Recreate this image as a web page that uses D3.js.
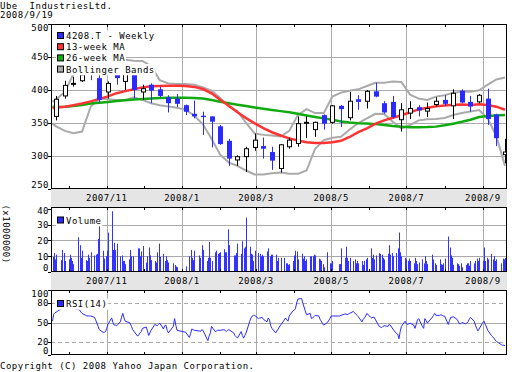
<!DOCTYPE html>
<html>
<head>
<meta charset="utf-8">
<script src="https://cdn.jsdelivr.net/npm/d3@7"></script>
<style>
  body { margin: 0; background: #fff; }
  svg { display: block; }
  text { font-family: "DejaVu Sans Mono", monospace; font-size: 9px; letter-spacing: 0.5px; fill: #000; }
</style>
</head>
<body>
<script>
// weekly candles, one per Friday from 2007-09-21 to 2008-09-19
const weekOpen = [360, 391, 409, 414, 432, 418, 397, 424, 413, 425, 397, 408, 401, 389, 387, 377, 364, 361, 360, 345,
  323, 294, 299, 313, 315, 306, 281, 314, 319, 350, 340, 362, 351, 376, 358, 386, 383, 398, 380, 382,
  355, 365, 374, 368, 378, 385, 376, 399, 382, 382, 387, 363, 302]
const weekHigh = [391, 414, 420, 426, 440, 423, 413, 426, 428, 428, 408, 410, 405, 392, 394, 378, 384, 367, 360, 347,
  326, 301, 314, 334, 328, 314, 318, 328, 360, 360, 352, 363, 377, 377, 397, 392, 400, 411, 383, 391,
  380, 383, 377, 381, 389, 392, 401, 401, 391, 394, 402, 364, 326]
const weekLow = [354, 387, 405, 412, 415, 381, 387, 408, 400, 387, 385, 380, 389, 366, 374, 362, 357, 332, 313, 317,
  285, 285, 276, 308, 296, 279, 275, 311, 314, 327, 329, 340, 349, 344, 354, 370, 372, 389, 364, 357,
  337, 356, 360, 359, 375, 376, 356, 380, 367, 380, 347, 315, 289]
const weekClose = [386, 407, 410, 423, 426, 385, 410, 418, 425, 400, 402, 399, 391, 380, 379, 367, 360, 359, 352, 318,
  296, 299, 311, 324, 311, 293, 317, 324, 349, 351, 351, 349, 376, 371, 383, 382, 398, 390, 366, 359,
  370, 372, 369, 372, 383, 379, 395, 381, 375, 392, 356, 327, 306]

// lines: first point on the first trading day, then one per week
const ma13 = [372.5, 373.5, 374.6, 377, 379.7, 382.8, 386.5, 390.3, 395.2, 398.3, 401, 404, 405.6, 406.2, 406.6, 406.6, 406.2, 404.7,
  401.5, 395, 385.2, 376, 366.4, 357.4, 349.4, 342.3, 336, 331, 326.7, 323.6, 321, 319.6, 319.7, 320.7, 323, 328.8,
  336.3, 342, 349, 354, 358, 361.8, 366.2, 370.6, 373.2, 375.2, 376.4, 377.6, 378, 377.4, 378.3, 377.4, 374.7, 370]
const ma26 = [374.5, 374.2, 374.5, 375.9, 377.2, 379.5, 380.8, 381.8, 383.3, 384.5, 385.6, 386.5, 387.2, 387.8, 388.3, 388.4, 388.4, 387.8,
  387, 384.8, 382.3, 380, 377.7, 375.6, 373.5, 371.5, 369.7, 368, 366.2, 364, 361.5, 359.2, 357, 354.8, 352.4, 350.8,
  349.8, 349.3, 348.3, 346.8, 345.4, 344.5, 343.7, 343.4, 343.8, 344.5, 346.5, 349, 351.8, 355, 359, 360.6, 361.5, 362]
const bandUpper = [382, 386, 397, 424, 438, 445, 448, 449, 448, 446, 444.5, 444, 436, 415, 410, 409, 409, 408,
  404, 399, 388, 375, 368, 350, 334, 332, 331, 329.5, 338, 362, 371, 365, 365, 390, 396, 399,
  401, 406, 411, 411, 413, 412, 393, 387, 385, 390, 392, 396, 397.5, 397.5, 399.5, 408, 416, 419]
const bandLower = [349, 345, 338, 334.5, 337, 375, 387, 386, 385, 385, 389, 385, 380, 377, 375, 373, 370, 361,
  348, 326, 302, 290, 285, 278, 272, 272, 274, 275, 273, 273, 278, 311, 324, 327.5, 329, 340,
  350, 357, 364, 363.5, 352, 342, 347, 354, 355.5, 356, 357.5, 362, 365, 367.5, 369.5, 357, 330, 285]

// daily series (x1000000 shares), one value per trading day
const volume = [
  9.5, 12, 8, 11, 7.5, 14, 12, 7, // 2007/9
  8, 11, 9, 7, 5, 22, 17, 9, 13.5, 7.5, 7, 11, 9, 12.5, 10.5, 11, 11.5, 21, 29, 13.5, 8.5, 10, // 10
  13.5, 25, 38.5, 14, 18.5, 14, 18, 10, 10.5, 7, 7, 5, 8, 14, 10, 10, 15, 15, 10, 13, 16.5, // 11
  6, 10, 15.5, 10.5, 7.5, 7, 6, 12.5, 18, 9.5, 11.5, 7, 10, 7.5, 6, 5.5, 4.5, 3.5, 3, // 12
  3.5, 10, 14, 9, 7.5, 13.5, 10.5, 9, 17, 14, 7, 9, 19, 9, 7, 12.5, 13.5, 11.5, 12, // 2008/1
  12.5, 14.5, 12.5, 12.5, 27, 17, 10.5, 10.5, 12, 18, 11.5, 19.5, 15, 16, 34.5, 16, 11.5, 11, 7, 13.5, // 2
  12, 11.5, 10, 11, 10, 13, 15, 10, 11, 11, 11, 7, 9, 9, 9, 5.5, 5.5, 4.5, 5, 7, // 3
  10.5, 13.5, 13, 8, 11.5, 8.5, 10, 7, 8, 10, 10, 10, 11, 10.5, 8.5, 8, 7, 5, 3, 12.5, 5.5, // 4
  5.5, 7, 5, 5, 15, 9, 16, 9, 7, 9, 7, 8, 5.5, 7, 5.5, 7, 4.5, 7, 8, 9, // 5
  15, 9, 11, 8, 10.5, 12, 11.5, 11, 9, 8, 11.5, 17, 11, 12, 10, 12, 15, 25, 12.5, 10, 9, // 6
  8, 7, 8.5, 7, 5.5, 9, 7, 5, 6, 8, 5.5, 10, 7, 5, 11, 8, 5.5, 4.5, 8, 5, 4.5, 5.5, // 7
  8.5, 22.5, 15.5, 10.5, 9, 4.5, 5.5, 5, 4, 5.5, 3, 4.5, 5.5, 5.5, 4, 7, 5.5, 7, 8.5, 7, 9, // 8
  7, 15.5, 7, 9, 8, 11.5, 8, 10, 7, 8, 5.5, 8.5, 8, 9 // 9
]
const rsi = [
  52, 63, 65, 66, 71, 73, 75, 76, // 2007/9
  78, 80, 77, 74, 72, 70, 69, 66, 64, 61, 60, 60, 60, 60, 58, 54, 49, 44, 39, 35, 35, 36, // 10
  41, 47, 57, 50, 46, 46, 45, 51, 58, 64, 57, 52, 50, 49, 44, 39, 29, 31, 34, 36, 41, // 11
  43, 37, 30, 34, 38, 47, 46, 45, 47, 49, 40, 45, 46, 38, 34, 44, 56, 46, 38, // 12
  35, 27, 33, 40, 39, 38, 37, 36, 39, 38, 26, 22, 29, 34, 44, 36, 37, 38, 38, // 2008/1
  38, 39, 38, 36, 38, 39, 34, 30, 28, 26, 36, 30, 26, 30, 34, 52, 57, 60, 61, 61, // 2
  56, 57, 57, 58, 55, 51, 57, 54, 45, 41, 34, 37, 40, 46, 54, 57, 54, 52, 60, 68, // 3
  69, 71, 80, 86, 87, 80, 74, 68, 62, 64, 56, 57, 59, 61, 60, 55, 52, 48, 46, 50, 56, // 4
  60, 60, 60, 60, 61, 63, 63, 62, 63, 64, 67, 65, 63, 61, 59, 51, 55, 57, 60, 64, // 5
  58, 57, 58, 58, 54, 44, 43, 42, 44, 45, 44, 47, 46, 43, 40, 33, 32, 25, 36, 44, 52, // 6
  48, 47, 48, 49, 46, 41, 47, 54, 56, 44, 41, 56, 53, 49, 58, 61, 64, 61, 61, 62, 61, 60, // 7
  60, 47, 53, 58, 58, 59, 55, 52, 48, 48, 50, 48, 49, 51, 55, 58, 52, 46, 41, 37, 40, // 8
  50, 52, 47, 43, 38, 30, 28, 26, 23, 21, 16, 15, 15, 14 // 9
]
const holidays = ["2007-09-24", "2007-10-08", "2007-11-23", "2007-12-24", "2007-12-31", "2008-01-01", "2008-01-02",
  "2008-01-03", "2008-01-14", "2008-02-11", "2008-03-20", "2008-04-29", "2008-05-05", "2008-05-06", "2008-07-21", "2008-09-15"]

const priceTicks = [250, 300, 350, 400, 450, 500]
const priceGrid = [300, 350, 400, 450]
const volTicks = [0, 10, 20, 30, 40]
const volGrid = [10, 20, 30]
const rsiTicks = [0, 20, 50, 80, 100]

const blue = "#2a2aff"
const red = "#ff3333"
const green = "#11aa11"
const gray = "#aaaaaa"

const w = 512
const h = 372
const left = 51
const right = 507
const price = { top: 24, bottom: 189 }
const vol = { top: 207, bottom: 272 }
const osc = { top: 290, bottom: 355 }

const parse = d3.timeParse("%Y-%m-%d")
const fmtDay = d3.timeFormat("%Y-%m-%d")
const off = new Set(holidays)
const days = d3.timeDay.range(parse("2007-09-18"), parse("2008-09-20"))
  .filter((d) => d.getDay() > 0 && d.getDay() < 6 && !off.has(fmtDay(d)))
const weeks = d3.timeFriday.range(parse("2007-09-21"), parse("2008-09-20"))
const lineDates = [days[0]].concat(weeks)
const months = d3.timeMonth.range(parse("2007-09-20"), parse("2008-09-20"))

const svg = d3.select("body").append("svg").attr("width", w).attr("height", h)

const x = d3.scaleTime().domain([days[0], days[days.length - 1]]).range([52.5, 505])
const yP = d3.scaleLinear().domain([250, 500]).range([price.bottom, price.top])
const yV = d3.scaleLinear().domain([0, 41.2]).range([vol.bottom, vol.top])
const yR = d3.scaleLinear().domain([0, 100]).range([osc.bottom, osc.top])

const defs = svg.append("defs")
;[["clipP", price], ["clipV", vol], ["clipR", osc]].forEach(([id, p]) => {
  defs.append("clipPath").attr("id", id).append("rect")
    .attr("x", left).attr("y", p.top).attr("width", right - left).attr("height", p.bottom - p.top)
})

// grey date bands between the panels
const bands = [[price.bottom, vol.top], [vol.bottom, osc.top]]
bands.forEach(([a, b]) => {
  svg.append("rect").attr("x", left).attr("y", a).attr("width", right - left).attr("height", b - a).attr("fill", "#e5e5e5")
  svg.selectAll(null).data(months.filter((m) => m.getMonth() % 2 === 0)).enter().append("text")
    .attr("x", (d) => x(d))
    .attr("y", (a + b) / 2 + 3.4)
    .attr("text-anchor", "middle")
    .text(d3.timeFormat("%Y/%-m"))
})

function panelFrame(p, grid, yScale, dashed) {
  const g = svg.append("g")
  g.selectAll("line.h").data(grid).enter().append("line")
    .attr("x1", left).attr("x2", right)
    .attr("y1", (d) => Math.round(yScale(d)) + 0.5).attr("y2", (d) => Math.round(yScale(d)) + 0.5)
    .attr("stroke", gray)
    .attr("stroke-dasharray", (d) => (dashed && dashed.includes(d) ? "4,3" : null))
  g.selectAll("line.v").data(months.filter((m) => m.getMonth() % 2 === 0)).enter().append("line")
    .attr("x1", (d) => Math.round(x(d)) + 0.5).attr("x2", (d) => Math.round(x(d)) + 0.5)
    .attr("y1", p.top).attr("y2", p.bottom)
    .attr("stroke", gray)
  return g
}

panelFrame(price, priceGrid, yP)
panelFrame(vol, volGrid, yV)
panelFrame(osc, [20, 50, 80], yR, [20, 80])

// candles
const candles = weeks.map((d, i) => ({ date: d, o: weekOpen[i], h: weekHigh[i], l: weekLow[i], c: weekClose[i] }))
const gc = svg.append("g").attr("clip-path", "url(#clipP)")

const lineOf = (vals) => d3.line().x((d, i) => x(lineDates[i])).y((d) => yP(d))(vals)
gc.append("path").attr("d", lineOf(bandUpper)).attr("fill", "none").attr("stroke", gray).attr("stroke-width", 2)
gc.append("path").attr("d", lineOf(bandLower)).attr("fill", "none").attr("stroke", gray).attr("stroke-width", 2)
gc.append("path").attr("d", lineOf(ma26)).attr("fill", "none").attr("stroke", green).attr("stroke-width", 2.5)
gc.append("path").attr("d", lineOf(ma13)).attr("fill", "none").attr("stroke", red).attr("stroke-width", 2.5)

gc.selectAll("line.wick").data(candles).enter().append("line")
  .attr("x1", (d) => Math.round(x(d.date)) + 0.5).attr("x2", (d) => Math.round(x(d.date)) + 0.5)
  .attr("y1", (d) => yP(d.h)).attr("y2", (d) => yP(d.l))
  .attr("stroke", (d) => (d.c >= d.o ? "#000" : blue))
gc.selectAll("rect.body").data(candles).enter().append("rect")
  .attr("x", (d) => Math.round(x(d.date)) - (d.c >= d.o ? 1.5 : 2))
  .attr("width", (d) => (d.c >= d.o ? 4 : 5))
  .attr("y", (d) => yP(Math.max(d.o, d.c)))
  .attr("height", (d) => Math.max(1, Math.abs(yP(d.o) - yP(d.c))))
  .attr("fill", (d) => (d.c >= d.o ? "#fff" : blue))
  .attr("stroke", (d) => (d.c >= d.o ? "#000" : "none"))

// volume bars
const gv = svg.append("g").attr("clip-path", "url(#clipV)")
gv.selectAll("rect").data(volume).enter().append("rect")
  .attr("x", (d, i) => Math.round(x(days[i])))
  .attr("width", 1)
  .attr("y", (d) => yV(d))
  .attr("height", (d) => yV(0) - yV(d))
  .attr("fill", "#3333ff")

// RSI line
const gr = svg.append("g").attr("clip-path", "url(#clipR)")
gr.append("path")
  .attr("d", d3.line().x((d, i) => x(days[i])).y((d) => yR(d))(rsi))
  .attr("fill", "none").attr("stroke", blue).attr("stroke-width", 1)

// legends with white backing
function legend(items, base) {
  items.forEach(([label, color], i) => {
    const b = base + i * 11.2
    svg.append("rect").attr("x", 56).attr("y", b - 8.5).attr("width", 11 + label.length * 5.9).attr("height", 11.2).attr("fill", "#fff")
    svg.append("rect").attr("x", 57.5).attr("y", b - 6.5).attr("width", 6).attr("height", 6)
      .attr("fill", color).attr("stroke", "#000")
    svg.append("text").attr("x", 66).attr("y", b).text(label)
  })
}
legend([["4208.T - Weekly", blue], ["13-week MA", red], ["26-week MA", green], ["Bollinger Bands", gray]], 39)
legend([["Volume", blue]], 223.5)
legend([["RSI(14)", blue]], 307)

// borders, month ticks and y labels
;[price, vol, osc].forEach((p) => {
  svg.append("rect").attr("x", left + 0.5).attr("y", p.top + 0.5)
    .attr("width", right - left - 1).attr("height", p.bottom - p.top - 1)
    .attr("fill", "none").attr("stroke", "#000")
  svg.selectAll(null).data(months).enter().append("path")
    .attr("d", (d) => {
      const xx = Math.round(x(d)) + 0.5
      return `M${xx},${p.top}v3M${xx},${p.bottom}v-3`
    })
    .attr("stroke", "#000")
})

function yLabels(ticks, scale, p) {
  svg.selectAll(null).data(ticks).enter().append("path")
    .attr("d", (d) => `M${left - 3},${Math.round(scale(d)) + 0.5}h3`)
    .attr("stroke", "#000")
  svg.selectAll(null).data(ticks).enter().append("text")
    .attr("x", 49)
    .attr("y", (d) => Math.min(Math.max(scale(d), p.top + 3.3), p.bottom - 4.7) + 3.3)
    .attr("text-anchor", "end")
    .text((d) => d)
}
yLabels(priceTicks, yP, price)
yLabels(volTicks, yV, vol)
yLabels(rsiTicks, yR, osc)

svg.append("text").attr("transform", "translate(3,234) rotate(90)").attr("text-anchor", "middle").text("(x1000000)")

svg.append("text").attr("x", 0).attr("y", 9.2).text("Ube\u00a0\u00a0IndustriesLtd.")
svg.append("text").attr("x", 0).attr("y", 17.6).text("2008/9/19")
svg.append("text").attr("x", 0).attr("y", 368.6).text("Copyright (C) 2008 Yahoo Japan Corporation.")
</script>
</body>
</html>
